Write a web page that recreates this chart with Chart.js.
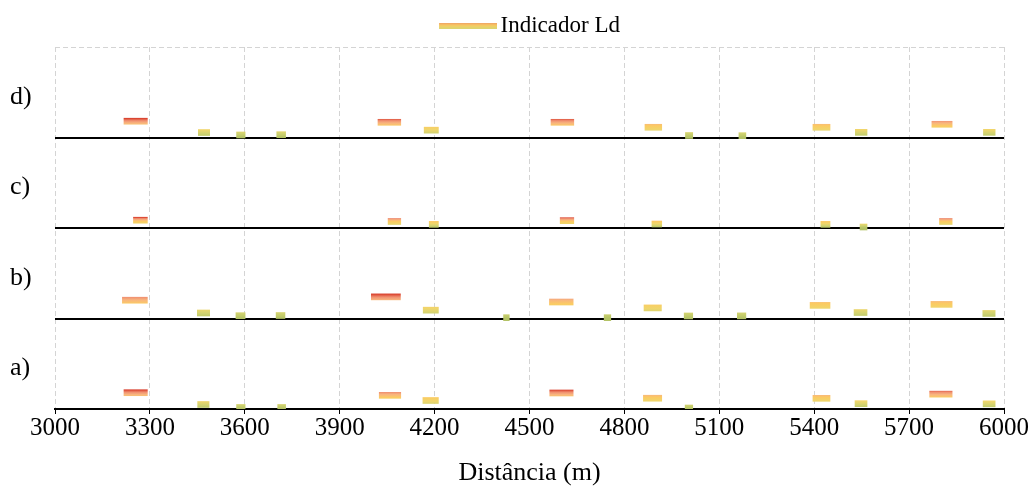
<!DOCTYPE html>
<html>
<head>
<meta charset="utf-8">
<script src="https://cdn.jsdelivr.net/npm/chart.js@4/dist/chart.umd.min.js"></script>
<style>
  body { margin: 0; background: #fff; }
</style>
</head>
<body>
<canvas id="grafico" width="1030" height="486"></canvas>
<script>
// Strip labels, bottom to top
const paineis = ['a)', 'b)', 'c)', 'd)'];

// Distance axis ticks (m)
const distTicks = [3000, 3300, 3600, 3900, 4200, 4500, 4800, 5100, 5400, 5700, 6000];

// Each stretch: start (m), end (m), Ld level above the strip baseline
const inicioA = [3218, 3451, 3574, 3704, 4025, 4163, 4564, 4860, 4992, 5396, 5529, 5765, 5934];
const fimA    = [3292, 3487, 3601, 3729, 4093, 4212, 4638, 4918, 5016, 5450, 5567, 5836, 5972];
const nivelA  = [18.0, 5.0, 1.7, 1.7, 15.1, 9.4, 17.7, 11.9, 1.1, 11.8, 5.9, 16.4, 5.7];

const inicioB = [3213, 3450, 3572, 3699, 4000, 4164, 4418, 4563, 4736, 4862, 4989, 5157, 5387, 5526, 5769, 5933];
const fimB    = [3292, 3489, 3601, 3727, 4092, 4212, 4436, 4638, 4757, 4917, 5016, 5184, 5450, 5567, 5836, 5972];
const nivelB  = [20.2, 6.1, 3.1, 3.3, 23.9, 9.2, 0.9, 18.2, 0.9, 11.7, 2.8, 2.9, 14.5, 6.6, 15.6, 5.6];

const inicioC = [3248, 4053, 4183, 4597, 4887, 5421, 5545, 5796];
const fimC    = [3292, 4093, 4212, 4640, 4918, 5450, 5567, 5836];
const nivelC  = [8.6, 7.2, 4.0, 8.1, 4.4, 4.0, 1.1, 7.2];

const inicioD = [3218, 3453, 3574, 3701, 4021, 4167, 4568, 4865, 4993, 5162, 5396, 5530, 5772, 5935];
const fimD    = [3292, 3489, 3601, 3729, 4093, 4212, 4640, 4918, 5016, 5184, 5450, 5567, 5836, 5972];
const nivelD  = [18.0, 5.5, 2.8, 3.1, 16.8, 8.1, 16.8, 11.3, 2.2, 2.0, 11.3, 5.7, 14.6, 5.7];

const inicios = [inicioA, inicioB, inicioC, inicioD];
const fins = [fimA, fimB, fimC, fimD];
const niveis = [nivelA, nivelB, nivelC, nivelD];

const PANEL = 100;      // y units per strip
const BAR_H = 6;        // px
const serif = "'Liberation Serif', 'Times New Roman', serif";
const fonteLegenda = { family: serif, size: 23 };
const fonteEixo = { family: serif, size: 25 };
const fonteTitulo = { family: serif, size: 26 };
const fontePainel = { family: serif, size: 26 };

// colour ramp from strip baseline (0) to the strip's highest value (1)
const rampa = [
  [0.00, '#b3c265'],
  [0.20, '#cfd270'],
  [0.40, '#efd66c'],
  [0.60, '#fbcb62'],
  [0.75, '#f8b57e'],
  [0.87, '#f09070'],
  [1.00, '#d83c2a']
];

function stripGradient(context, i) {
  const chart = context.chart;
  if (!chart.chartArea) return '#f5d060';
  const y = chart.scales.y;
  const base = i * PANEL;
  const bottom = y.getPixelForValue(base);
  const top = y.getPixelForValue(base + Math.max(...niveis[i])) - BAR_H / 2;
  const g = chart.ctx.createLinearGradient(0, bottom, 0, top);
  rampa.forEach(([t, c]) => g.addColorStop(t, c));
  return g;
}

// legend swatch (left 8px left transparent so the stripe sits next to the text)
const swatch = document.createElement('canvas');
swatch.width = 66;
swatch.height = 6;
const sctx = swatch.getContext('2d');
const sg = sctx.createLinearGradient(0, 0, 0, 6);
sg.addColorStop(0, '#ee9a66');
sg.addColorStop(0.5, '#f8cc62');
sg.addColorStop(1, '#d9d672');
sctx.fillStyle = sg;
sctx.fillRect(8, 0, 58, 6);

const datasets = niveis.map((nivel, i) => ({
  label: paineis[i],
  data: nivel.map((v, k) => ({ y: i * PANEL + v, x: [inicios[i][k], fins[i][k]] })),
  backgroundColor: ctx => stripGradient(ctx, i),
  borderWidth: 0,
  barThickness: BAR_H,
  grouped: false,
  yAxisID: 'y'
}));

// shared settings for the stacked y scales
const yComum = {
  type: 'linear',
  position: 'left',
  min: 0,
  max: 4 * PANEL,
  offset: false
};

new Chart(document.getElementById('grafico'), {
  type: 'bar',
  data: { datasets },
  options: {
    indexAxis: 'y',
    responsive: false,
    animation: false,
    layout: { padding: { left: 10, right: 26, top: 2, bottom: 0 } },
    plugins: {
      tooltip: { enabled: false },
      legend: {
        position: 'top',
        fullSize: false,
        labels: {
          usePointStyle: true,
          pointStyleWidth: 50,
          padding: 12,
          font: fonteLegenda,
          color: '#000',
          generateLabels: () => [{
            text: 'Indicador Ld',
            pointStyle: swatch,
            fillStyle: '#f8cc62',
            strokeStyle: 'transparent',
            lineWidth: 0,
            hidden: false,
            datasetIndex: 0
          }]
        }
      }
    },
    scales: {
      x: {
        type: 'linear',
        min: 3000,
        max: 6000,
        afterBuildTicks: s => { s.ticks = distTicks.map(v => ({ value: v })); },
        grid: { color: '#d4d4d4', lineWidth: 1, tickLength: 5, tickColor: '#000', tickWidth: 1 },
        border: { display: true, color: '#000', width: 2, dash: [5, 3] },
        ticks: { font: fonteEixo, color: '#000', padding: -1, maxRotation: 0, autoSkip: false, callback: v => String(v) },
        title: { display: true, text: 'Distância (m)', font: fonteTitulo, color: '#000', padding: { top: 4, bottom: -3 } },
        afterFit: s => { s.height = 77; }
      },
      y: {
        ...yComum,
        afterBuildTicks: s => { s.ticks = paineis.map((p, i) => ({ value: i * PANEL + 45 })); },
        ticks: {
          autoSkip: false,
          crossAlign: 'far',
          font: fontePainel,
          color: '#000',
          callback: (v, idx) => paineis[idx]
        },
        grid: { display: false, offset: false },
        border: { display: false },
        afterFit: s => { s.width = 45; }
      },
      yBase: {
        ...yComum,
        afterBuildTicks: s => { s.ticks = [1, 2, 3].map(n => ({ value: n * PANEL })); },
        ticks: { display: false },
        grid: { color: '#000', lineWidth: 2, drawTicks: false, offset: false },
        border: { display: false },
        afterFit: s => { s.width = 0; }
      },
      yTop: {
        ...yComum,
        afterBuildTicks: s => { s.ticks = [{ value: 4 * PANEL }]; },
        ticks: { display: false },
        grid: { color: '#d4d4d4', lineWidth: 1, drawTicks: false, offset: false },
        border: { display: false, dash: [5, 3] },
        afterFit: s => { s.width = 0; }
      }
    }
  }
});
</script>
</body>
</html>
